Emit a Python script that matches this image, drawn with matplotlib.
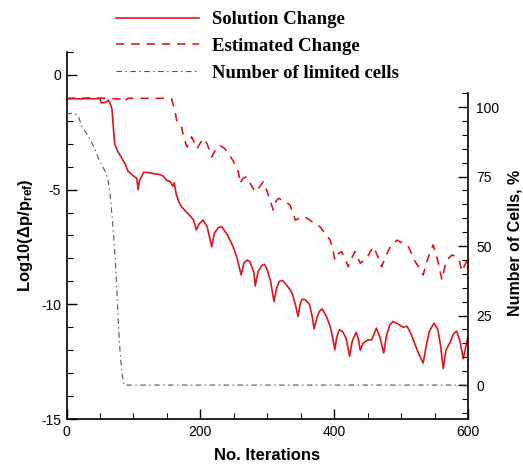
import numpy as np
import matplotlib
matplotlib.use("Agg")
import matplotlib.pyplot as plt
from matplotlib.ticker import MultipleLocator, FixedLocator

# Solution change, log10(dp/pref)
sol_it = [0, 10, 20, 30, 40, 50, 52, 58, 63, 66, 68, 70, 72, 76, 82, 88, 92, 98, 102, 105,
          107, 109, 112, 115, 120, 130, 140, 144, 150, 155, 159, 161, 164, 168, 172, 180, 185,
          190, 194, 198, 204, 210, 217, 221, 227, 232, 240, 249, 255, 261, 265, 270, 274, 280,
          282, 286, 292, 296, 300, 305, 310, 314, 318, 323, 330, 337, 342, 346, 349, 352, 357,
          363, 367, 370, 374, 378, 382, 388, 394, 398, 401, 404, 408, 413, 418, 423, 427, 433,
          436, 439, 443, 450, 456, 463, 468, 474, 478, 483, 488, 495, 503, 509, 515, 521, 527,
          533, 537, 542, 549, 555, 559, 563, 567, 573, 578, 583, 588, 593, 597, 600]
sol_val = [-1.06, -1.02, -1.05, -1.03, -1.04, -1.03, -1.22, -1.2, -1.1, -1.3, -1.5, -2.3, -3.0,
           -3.3, -3.6, -3.9, -4.2, -4.35, -4.45, -4.5, -5.0, -4.6, -4.45, -4.25, -4.25, -4.3,
           -4.35, -4.4, -4.6, -4.65, -4.85, -4.7, -5.2, -5.55, -5.75, -6.0, -6.15, -6.33, -6.76,
           -6.5, -6.33, -6.6, -7.49, -6.9, -6.65, -6.62, -6.95, -7.49, -8.0, -8.72, -8.2, -8.07,
           -8.14, -8.6, -9.2, -8.6, -8.3, -8.26, -8.5, -9.0, -9.88, -9.3, -9.0, -8.96, -9.2,
           -9.5, -10.0, -10.53, -10.0, -9.78, -9.8, -10.0, -10.5, -11.08, -10.6, -10.3, -10.2,
           -10.5, -10.96, -11.5, -11.98, -11.4, -11.1, -11.2, -11.5, -12.27, -11.6, -11.22,
           -11.5, -12.0, -11.7, -11.55, -11.55, -11.04, -11.4, -12.12, -11.4, -10.9, -10.75,
           -10.85, -11.0, -10.96, -11.3, -11.76, -12.2, -12.56, -11.9, -11.2, -10.82, -11.1,
           -11.8, -12.8, -12.0, -11.67, -11.3, -11.17, -11.6, -12.37, -11.8, -11.39]

# Estimated change
est_it = [0, 20, 40, 60, 80, 84, 88, 92, 120, 150, 157, 162, 165, 172, 175, 180, 187, 195, 204,
          210, 217, 222, 229, 236, 244, 250, 257, 259, 264, 269, 276, 282, 288, 294, 300, 309,
          313, 317, 326, 334, 338, 342, 348, 356, 367, 379, 386, 394, 398, 401, 406, 411, 416,
          421, 426, 431, 435, 439, 444, 449, 454, 459, 465, 471, 477, 484, 494, 503, 511, 516,
          521, 527, 533, 540, 548, 554, 561, 566, 571, 576, 581, 586, 591, 595, 598, 600]
est_val = [-1.02, -1.02, -1.0, -1.02, -1.05, -1.18, -1.1, -1.02, -1.02, -1.02, -1.05, -1.54,
           -2.05, -2.27, -2.7, -3.14, -2.7, -3.21, -2.78, -3.0, -3.57, -3.3, -3.07, -3.2, -3.5,
           -3.8, -4.22, -4.73, -4.5, -4.44, -4.8, -5.1, -4.9, -4.66, -5.1, -5.89, -5.5, -5.38,
           -5.5, -5.67, -6.0, -6.33, -6.25, -6.18, -6.4, -6.62, -6.9, -7.2, -7.6, -8.07, -7.8,
           -7.7, -8.0, -8.36, -8.0, -7.7, -7.95, -8.21, -8.1, -7.99, -7.7, -7.49, -7.9, -8.36,
           -7.9, -7.49, -7.2, -7.35, -7.49, -7.8, -8.14, -8.4, -8.72, -8.0, -7.41, -8.0, -8.93,
           -8.28, -8.0, -7.85, -7.9, -7.99, -8.57, -8.3, -8.14, -8.2]

# Number of limited cells, %
lim_it = [0, 5, 12, 18, 23, 30, 35, 42, 48, 52, 58, 62, 65, 68, 70, 72, 74, 76, 78, 80, 83, 86, 100, 600]
lim_val = [97.5, 97.7, 97.8, 96.5, 93, 90.5, 88.7, 85, 81.5, 79.5, 76.7, 73.7, 69, 61, 55,
           48.6, 40, 30, 20, 12, 4, 0, 0, 0]

red = "#e0161e"
plt.rcParams["lines.scale_dashes"] = False
plt.rcParams["axes.unicode_minus"] = False
plt.rcParams["mathtext.fontset"] = "custom"
plt.rcParams["mathtext.rm"] = "Liberation Sans:bold"
plt.rcParams["mathtext.it"] = "Liberation Sans:bold"

fig = plt.figure(figsize=(5.23, 4.65), dpi=100)
ax = fig.add_axes([66.5 / 523, 1 - 419 / 465, (468 - 66.5) / 523, (419 - 52) / 465])
ax2 = ax.twinx()

l1, = ax.plot(sol_it, sol_val, color=red, lw=1.2, label="Solution Change")
l2, = ax.plot(est_it, est_val, color=red, lw=1.2, dashes=(6, 5), label="Estimated Change")
l3, = ax2.plot(lim_it, lim_val, color="#555555", lw=0.8, dashes=(4, 2.5, 1, 2.5),
               label="Number of limited cells")

ax.set_xlim(0, 600)
ax.set_ylim(-15, 1)
ax2.set_ylim(-12.2, 119.8)

ax.spines["top"].set_visible(False)
ax2.spines["top"].set_visible(False)
ax2.spines["left"].set_visible(False)
ax2.spines["bottom"].set_visible(False)
ax.spines["right"].set_visible(False)
ax2.spines["right"].set_bounds(-12.2, 105)

ax.xaxis.set_major_locator(MultipleLocator(200))
ax.xaxis.set_minor_locator(MultipleLocator(50))
ax.yaxis.set_major_locator(MultipleLocator(5))
ax.yaxis.set_minor_locator(MultipleLocator(1))
ax2.yaxis.set_major_locator(FixedLocator([0, 25, 50, 75, 100]))
ax2.yaxis.set_minor_locator(FixedLocator(list(range(-10, 106, 5))))

tfont = "Liberation Sans"
ax.tick_params(which="major", direction="in", length=7, width=1, labelsize=10, pad=4)
ax.tick_params(which="minor", direction="in", length=4, width=0.8)
ax2.tick_params(which="major", direction="in", length=7, width=1, labelsize=10, pad=6)
ax2.tick_params(which="minor", direction="in", length=4, width=0.8)
for lab in ax.get_xticklabels() + ax.get_yticklabels() + ax2.get_yticklabels():
    lab.set_fontfamily(tfont)

for sp in ax.spines.values():
    sp.set_linewidth(1.2)
ax2.spines["right"].set_linewidth(1.2)

ax.set_xlabel("No. Iterations", fontsize=12, fontweight="bold", family=tfont, labelpad=7)
ax.set_ylabel(r"Log10($\Delta$p/p$_{\mathregular{ref}}$)", fontsize=12, fontweight="bold",
              family=tfont, labelpad=4)
ax2.set_ylabel("Number of Cells, %", fontsize=11.5, fontweight="bold", family=tfont, labelpad=2)
ax2.yaxis.set_label_coords(1.098, 0.48)

fig.legend(handles=[l1, l2, l3], loc="upper left", bbox_to_anchor=(116 / 523, 1 - 11 / 465),
           frameon=False, borderpad=0, borderaxespad=0, handlelength=4.4, handletextpad=0.7,
           labelspacing=0.52, prop={"family": "Liberation Serif", "weight": "bold", "size": 13.5})

fig.savefig("out.png", dpi=100)
